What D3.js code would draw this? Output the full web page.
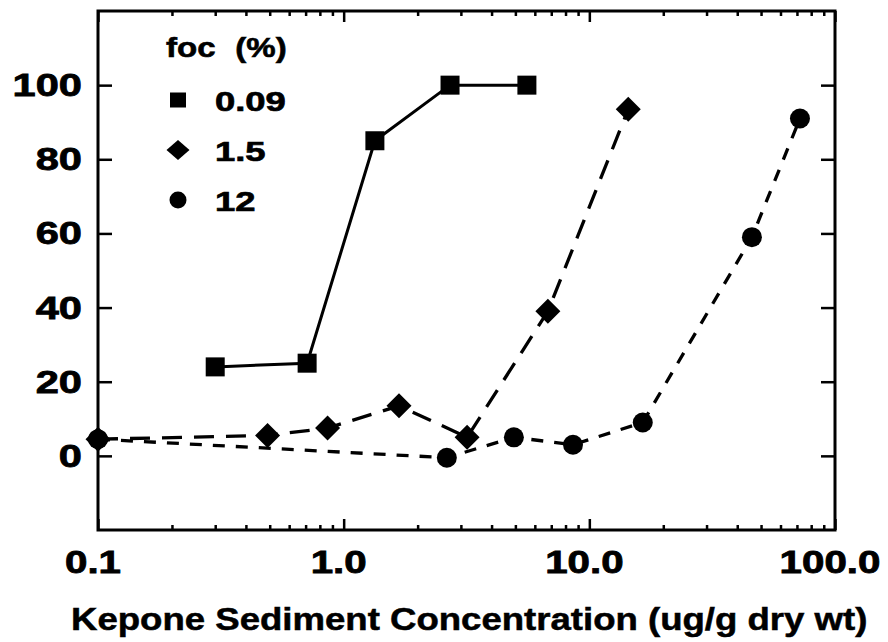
<!DOCTYPE html>
<html>
<head>
<meta charset="utf-8">
<script src="https://cdn.jsdelivr.net/npm/d3@7"></script>
<style>
  html, body { margin: 0; padding: 0; background: #fff; }
  svg { display: block; }
  text { font-family: "Liberation Sans", Arial, sans-serif; font-weight: bold; fill: #000; }
</style>
</head>
<body>
<svg id="chart" width="888" height="642"></svg>
<script>
// ---- data ----
const seriesNames = ["0.09", "1.5", "12"];
const legendTitle = "foc (%)";
const xTitle = "Kepone Sediment Concentration (ug/g dry wt)";

const sq_x = [0.30, 0.71, 1.34, 2.71, 5.57];
const sq_y = [24, 25, 85, 100, 100];

const dm_x = [0.1, 0.49, 0.86, 1.68, 3.18, 6.78, 14.4];
const dm_y = [4.5, 5.5, 7.5, 13.5, 5, 39, 93.5];

const ci_x = [0.1, 2.63, 4.93, 8.58, 16.5, 45.9, 72];
const ci_y = [4.5, -0.5, 5, 3, 9, 59, 91];

const xMajorTicks = [0.1, 1, 10, 100];
const xTickLabels = ["0.1", "1.0", "10.0", "100.0"];
const yTicks = [0, 20, 40, 60, 80, 100];
const yTickLabels = ["0", "20", "40", "60", "80", "100"];

// ---- layout ----
const svg = d3.select("#chart");
const L = 98, R = 835, T = 11, B = 530;
const x = d3.scaleLog().domain([0.1, 100]).range([L, R]);
const y = d3.scaleLinear().domain([-20, 120]).range([B, T]);

const xMinor = [];
[0.1, 1, 10].forEach(d => { for (let k = 2; k <= 9; k++) xMinor.push(d * k); });

// ticks (inward)
function styleAxis(g) {
  g.select(".domain").remove();
  g.selectAll("line").attr("stroke", "#000").attr("stroke-width", 2.5);
  g.selectAll("text").remove();
}
svg.append("g").attr("transform", `translate(0,${B})`)
  .call(d3.axisTop(x).tickValues(xMajorTicks).tickSize(11).tickFormat("")).call(styleAxis);
svg.append("g").attr("transform", `translate(0,${B})`)
  .call(d3.axisTop(x).tickValues(xMinor).tickSize(5).tickFormat("")).call(styleAxis);
svg.append("g").attr("transform", `translate(0,${T})`)
  .call(d3.axisBottom(x).tickValues(xMajorTicks).tickSize(11).tickFormat("")).call(styleAxis);
svg.append("g").attr("transform", `translate(0,${T})`)
  .call(d3.axisBottom(x).tickValues(xMinor).tickSize(5).tickFormat("")).call(styleAxis);
svg.append("g").attr("transform", `translate(${L},0)`)
  .call(d3.axisRight(y).tickValues(yTicks).tickSize(14).tickFormat("")).call(styleAxis);
svg.append("g").attr("transform", `translate(${R},0)`)
  .call(d3.axisLeft(y).tickValues(yTicks).tickSize(14).tickFormat("")).call(styleAxis);

// frame
svg.append("rect").attr("x", L).attr("y", T).attr("width", R - L).attr("height", B - T)
  .attr("fill", "none").attr("stroke", "#000").attr("stroke-width", 3);

// tick labels
svg.selectAll(".xl").data(xMajorTicks).enter().append("text")
  .attr("transform", (d) => `translate(${x(d) - 5},573) scale(1.3,1)`)
  .attr("text-anchor", "middle").attr("font-size", 31)
  .attr("stroke", "#000").attr("stroke-width", 0.8)
  .text((d, i) => xTickLabels[i]);
svg.selectAll(".yl").data(yTicks).enter().append("text")
  .attr("transform", (d) => `translate(82,${y(d) + 11}) scale(1.3,1)`)
  .attr("text-anchor", "end").attr("font-size", 32)
  .attr("stroke", "#000").attr("stroke-width", 0.8)
  .text((d, i) => yTickLabels[i]);

// axis title
svg.append("text").attr("transform", "translate(71,630) scale(1.18,1)").attr("font-size", 31)
  .attr("stroke", "#000").attr("stroke-width", 0.5)
  .text(xTitle);

// lines
const line = d3.line().x(d => x(d[0])).y(d => y(d[1]));
const sqData = sq_x.map((v, i) => [v, sq_y[i]]);
const dmData = dm_x.map((v, i) => [v, dm_y[i]]);
const ciData = ci_x.map((v, i) => [v, ci_y[i]]);

svg.append("path").datum(ciData).attr("d", line).attr("fill", "none")
  .attr("stroke", "#000").attr("stroke-width", 3.3).attr("stroke-dasharray", "12,11");
svg.append("path").datum(dmData).attr("d", line).attr("fill", "none")
  .attr("stroke", "#000").attr("stroke-width", 3.3).attr("stroke-dasharray", "20,12");
svg.append("path").datum(sqData).attr("d", line).attr("fill", "none")
  .attr("stroke", "#000").attr("stroke-width", 3);

// markers
const diamondPath = (h) => `M0,${-h}L${h},0L0,${h}L${-h},0Z`;
svg.selectAll(".ci").data(ciData).enter().append("circle")
  .attr("cx", d => x(d[0])).attr("cy", d => y(d[1])).attr("r", 10).attr("fill", "#000");
svg.selectAll(".dm").data(dmData).enter().append("path")
  .attr("transform", d => `translate(${x(d[0])},${y(d[1])})`)
  .attr("d", diamondPath(12.5)).attr("fill", "#000");
svg.selectAll(".sq").data(sqData).enter().append("rect")
  .attr("x", d => x(d[0]) - 9.5).attr("y", d => y(d[1]) - 9.5)
  .attr("width", 19).attr("height", 19).attr("fill", "#000");

// legend
svg.append("text").attr("transform", "translate(166,57) scale(1.18,1)").attr("font-size", 28)
  .attr("word-spacing", 9).attr("stroke", "#000").attr("stroke-width", 0.6)
  .text(legendTitle);
const legY = [100, 150, 200];
const lg = svg.selectAll(".lg").data(seriesNames).enter().append("g")
  .attr("transform", (d, i) => `translate(178,${legY[i]})`);
lg.each(function (d, i) {
  const g = d3.select(this);
  if (i === 0) g.append("rect").attr("x", -8).attr("y", -7.5).attr("width", 16).attr("height", 15).attr("fill", "#000");
  if (i === 1) g.append("path").attr("d", "M0,-10L11.5,0L0,10L-11.5,0Z").attr("fill", "#000");
  if (i === 2) g.append("circle").attr("r", 8.5).attr("fill", "#000");
  g.append("text").attr("transform", "translate(37,11) scale(1.3,1)")
    .attr("font-size", 28).attr("stroke", "#000").attr("stroke-width", 0.7).text(d);
});
</script>
</body>
</html>
